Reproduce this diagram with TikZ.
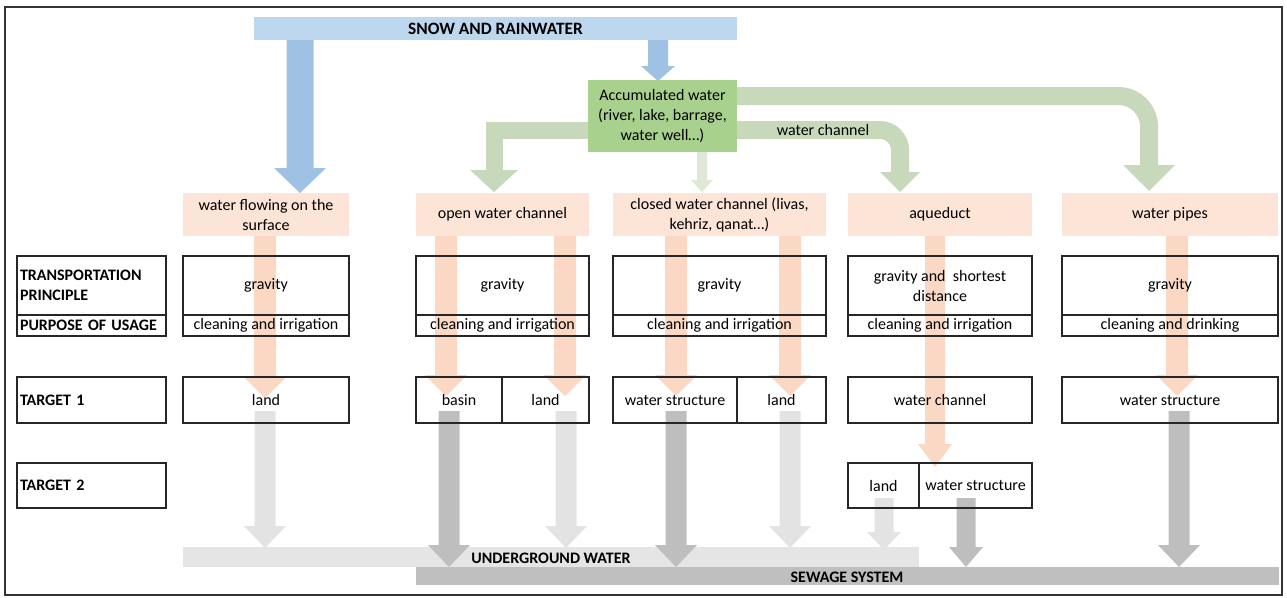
\documentclass[tikz,border=0pt]{standalone}
\usepackage{fontspec}
\setmainfont{Carlito}
\definecolor{snowbar}{RGB}{189,215,238}
\definecolor{bluearr}{RGB}{158,193,228}
\definecolor{accbox}{RGB}{169,209,142}
\definecolor{greenarr}{RGB}{199,216,187}
\definecolor{palegreen}{RGB}{222,232,214}
\definecolor{pinkbox}{RGB}{252,228,214}
\definecolor{pinkarr}{RGB}{250,216,196}
\definecolor{lgr}{RGB}{227,227,227}
\definecolor{dgr}{RGB}{190,190,190}
\definecolor{ugbar}{RGB}{229,229,229}
\definecolor{sewbar}{RGB}{191,191,191}
\newcommand{\fs}{\fontsize{12}{15}\selectfont}
\newcommand{\fsb}{\fontsize{12}{15}\selectfont\bfseries}
% box node: style, x1, y1, x2, y2, name, text
\newcommand{\bx}[7]{\node[#1, minimum width={(#4-#2)*0.75pt}, minimum height={(#5-#3)*0.75pt}] (#6) at ({(#2+#4)/2},{(#3+#5)/2}) {#7};}
% label box with left aligned text
\newcommand{\lbx}[6]{\node[lbox, minimum width={(#3-#1)*0.75pt}, minimum height={(#4-#2)*0.75pt}, text width={(#3-#1-6)*0.75pt}] (#5) at ({(#1+#3)/2},{(#2+#4)/2}) {#6};}
% block arrow: colour, x centre, y start, y tip, shaft half width, head half width, head length
\newcommand{\blkarr}[7]{\fill[#1] ({#2-#5},#3) -- ({#2+#5},#3) -- ({#2+#5},{#4-#7}) -- ({#2+#6},{#4-#7}) -- (#2,#4) -- ({#2-#6},{#4-#7}) -- ({#2-#5},{#4-#7}) -- cycle;}
\tikzset{
  frame/.style={draw=black!80, line width=1.1pt},
  dbox/.style={draw=black!85, line width=0.9pt, inner sep=0pt, outer sep=0pt, align=center, font=\fs},
  lbox/.style={dbox, align=left, font=\fsb},
  pbox/.style={fill=pinkbox, inner sep=0pt, outer sep=0pt, align=center, font=\fs},
  barbox/.style={inner sep=0pt, outer sep=0pt, font=\fsb},
  txt/.style={inner sep=0pt, font=\fs, align=center},
}
\begin{document}
\begin{tikzpicture}[x=0.75pt,y=-0.75pt]
\useasboundingbox (0,0) rectangle (1287,597);
\draw[frame] (5,7) rectangle (1282,595);

% snow and rainwater
\bx{barbox, fill=snowbar, font=\fontsize{13}{15}\selectfont\bfseries}{254}{17}{737}{40}{snow}{SNOW AND RAINWATER}
\blkarr{bluearr}{300}{40}{193}{13.5}{26}{25}
\blkarr{bluearr}{658}{40}{81}{10}{17}{15}

% green arrows
\draw[greenarr, line width=13.5pt, rounded corners=23pt] (720,96) -- (1149,96) -- (1149,167);
\fill[greenarr] (1123,165) -- (1175,165) -- (1149,191) -- cycle;
\draw[greenarr, line width=13.5pt, rounded corners=15pt] (720,130) -- (900,130) -- (900,174);
\fill[greenarr] (880,172) -- (920,172) -- (900,192) -- cycle;
\draw[greenarr, line width=12.75pt, line join=miter] (600,130) -- (494,130) -- (494,172);
\fill[greenarr] (470,170) -- (518,170) -- (494,192) -- cycle;
\blkarr{palegreen}{702}{150}{192}{5}{11}{12}
\node[txt] (wc) at (823,130) {water channel};

\bx{fill=accbox, inner sep=0pt, align=center, font=\fs}{588}{80}{737}{152}{acc}{Accumulated water\\(river, lake, barrage,\\water well…)}

% pink boxes
\bx{pbox}{183}{193}{349}{236}{p1}{water flowing on the\\surface}
\bx{pbox}{416}{193}{589}{236}{p2}{open water channel}
\bx{pbox}{613}{193}{826}{236}{p3}{closed water channel (livas,\\kehriz, qanat…)}
\bx{pbox}{848}{193}{1032}{236}{p4}{aqueduct}
\bx{pbox}{1062}{193}{1278}{236}{p5}{water pipes}

% pink arrows
\blkarr{pinkarr}{265}{236}{398}{11}{21}{21}
\blkarr{pinkarr}{446}{236}{396}{11}{21}{21}
\blkarr{pinkarr}{565}{236}{396}{11}{21}{21}
\blkarr{pinkarr}{676}{236}{396}{11}{21}{21}
\blkarr{pinkarr}{790}{236}{396}{11}{21}{21}
\blkarr{pinkarr}{935}{236}{467}{10}{17}{23}
\blkarr{pinkarr}{1177}{236}{396}{11}{21}{21}

% bottom bars
\bx{barbox, fill=ugbar}{183}{547}{919}{567}{ug}{}
\bx{barbox, fill=sewbar}{416}{567}{1279}{585}{sew}{}

% grey arrows
\blkarr{lgr}{265}{411}{548}{10.5}{21}{22}
\blkarr{dgr}{449}{411}{567}{10.5}{21}{22}
\blkarr{lgr}{566}{411}{548}{10.5}{21}{22}
\blkarr{dgr}{676}{411}{567}{10.5}{21}{22}
\blkarr{lgr}{790}{411}{548}{10.5}{21}{22}
\blkarr{lgr}{884}{498}{550}{9.5}{17}{18}
\blkarr{dgr}{966}{498}{567}{9.5}{17}{20}
\blkarr{dgr}{1179}{411}{567}{10.5}{21}{22}

\node[barbox] (ugt) at (551,558) {UNDERGROUND WATER};
\node[barbox] (sewt) at (847,577) {SEWAGE SYSTEM};

% label column
\lbx{17}{256}{166}{315}{ltp}{TRANSPORTATION\\PRINCIPLE}
\lbx{17}{315}{166}{336}{lpu}{PURPOSE OF USAGE}
\lbx{17}{377}{166}{423}{lt1}{TARGET 1}
\lbx{17}{463}{166}{508}{lt2}{TARGET 2}

% column 1
\bx{dbox}{183}{256}{349}{315}{t1}{gravity}
\bx{dbox}{183}{315}{349}{336}{u1}{cleaning and irrigation}
\bx{dbox}{183}{377}{349}{423}{a1}{land}
% column 2
\bx{dbox}{416}{256}{589}{315}{t2}{gravity}
\bx{dbox}{416}{315}{589}{336}{u2}{cleaning and irrigation}
\bx{dbox}{416}{377}{502}{423}{a2}{basin}
\bx{dbox}{502}{377}{589}{423}{b2}{land}
% column 3
\bx{dbox}{613}{256}{826}{315}{t3}{gravity}
\bx{dbox}{613}{315}{826}{336}{u3}{cleaning and irrigation}
\bx{dbox}{613}{377}{737}{423}{a3}{water structure}
\bx{dbox}{737}{377}{826}{423}{b3}{land}
% column 4
\bx{dbox}{848}{256}{1032}{315}{t4}{gravity and\ \ shortest\\distance}
\bx{dbox}{848}{315}{1032}{336}{u4}{cleaning and irrigation}
\bx{dbox}{848}{377}{1032}{423}{a4}{water channel}
\bx{dbox}{848}{463}{919}{508}{c4}{land}
\bx{dbox}{919}{463}{1032}{508}{d4}{water structure}
% column 5
\bx{dbox}{1062}{256}{1278}{315}{t5}{gravity}
\bx{dbox}{1062}{315}{1278}{336}{u5}{cleaning and drinking}
\bx{dbox}{1062}{377}{1278}{423}{a5}{water structure}
\end{tikzpicture}
\end{document}
